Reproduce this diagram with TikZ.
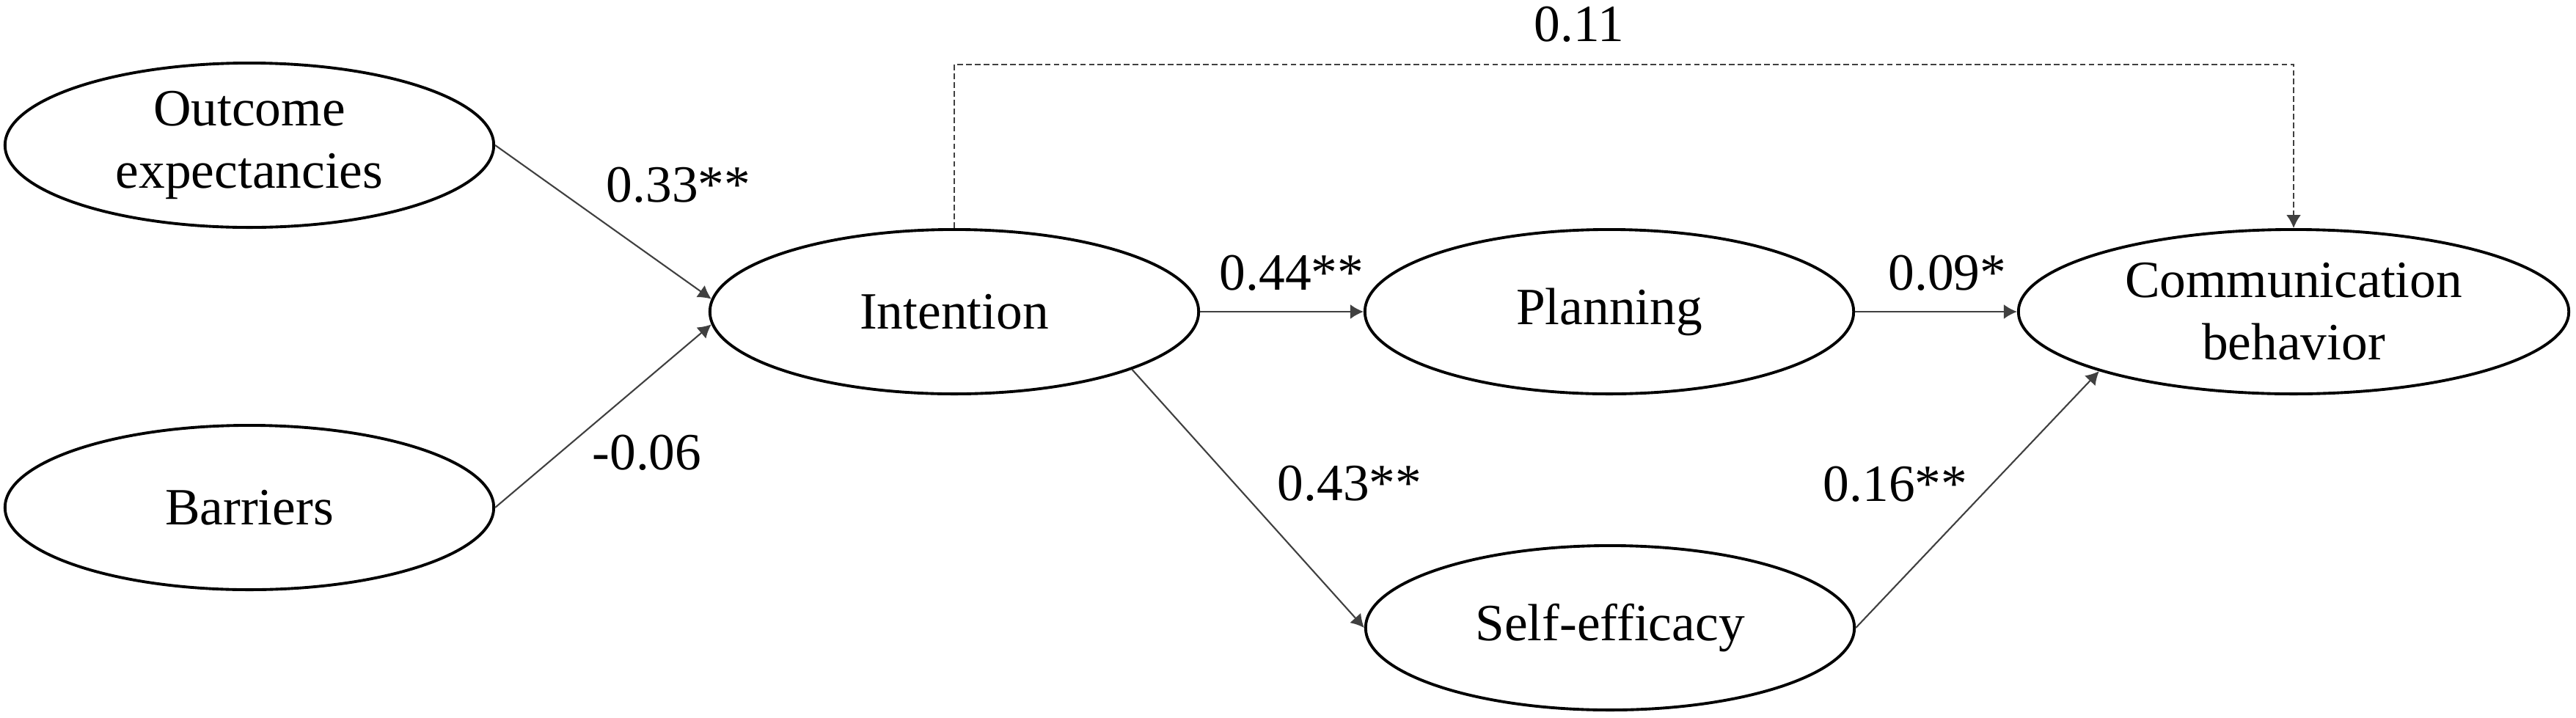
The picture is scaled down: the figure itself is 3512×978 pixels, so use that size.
\documentclass[tikz,border=0pt]{standalone}
\usepackage{fontspec}
\setmainfont{Liberation Serif}
\usepackage{tikz}
\usetikzlibrary{shapes.geometric}
\usetikzlibrary{arrows.meta}

\begin{document}
\begin{tikzpicture}[x=0.01cm,y=-0.01cm,
  latent/.style={draw,ellipse,line width=1.1pt,inner sep=0pt,minimum width=6.66cm,minimum height=2.24cm,align=center,font=\fontsize{20.3}{24.2}\selectfont},
  effect/.style={->,>={Latex[length=1.8mm,width=2mm]},line width=0.6pt,draw=black!75},
  direct/.style={dash pattern=on 2.2pt off 1.2pt},
  coef/.style={font=\fontsize{20.3}{24.2}\selectfont}]
  \useasboundingbox (0,0) rectangle (3512,978);

  \node[latent] (outcome) at (340,198) {Outcome\\expectancies};
  \node[latent] (barriers) at (340,692) {Barriers};
  \node[latent] (intention) at (1301,425) {Intention};
  \node[latent] (planning) at (2194,425) {Planning};
  \node[latent] (selfeff) at (2195,856) {Self-efficacy};
  \node[latent,minimum width=7.5cm] (comm) at (3127,425) {Communication\\behavior};

  \draw[effect] (outcome.east) -- (intention.177);
  \draw[effect] (barriers.east) -- (intention.183);
  \draw[effect] (intention.east) -- (planning.west);
  \draw[effect] (planning.east) -- (comm.west);
  \draw[effect] (intention.-18) -- (selfeff.west);
  \draw[effect] (selfeff.east) -- (comm.197);
  \coordinate (bend) at (2200,88);
  \draw[effect,direct] (intention.north) |- (bend) -| (comm.north);

  \node[coef] (c33) at (925,252) {0.33**};
  \node[coef] (c06) at (882,617) {-0.06};
  \node[coef] (c44) at (1761,372) {0.44**};
  \node[coef] (c09) at (2655,372) {0.09*};
  \node[coef] (c43) at (1840,659) {0.43**};
  \node[coef] (c16) at (2584,660) {0.16**};
  \node[coef] (c11) at (2153,33) {0.11};
\end{tikzpicture}
\end{document}
